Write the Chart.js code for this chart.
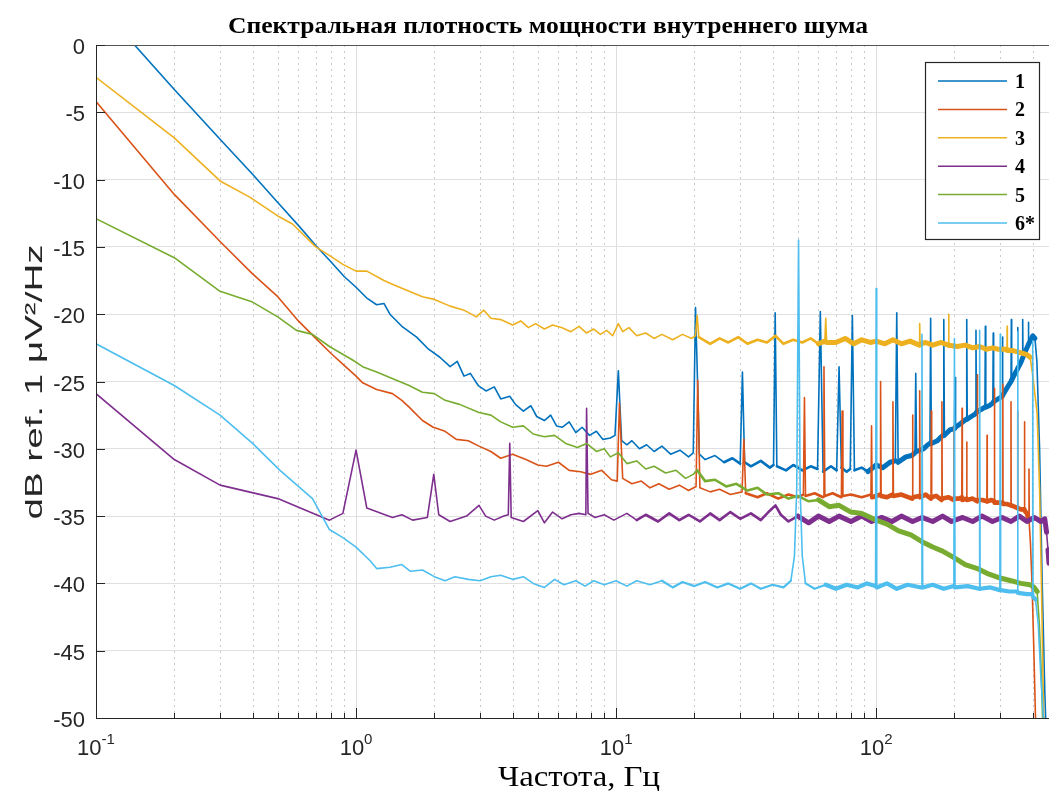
<!DOCTYPE html>
<html lang="ru">
<head>
    <meta charset="UTF-8">
    <title>Спектральная плотность мощности внутреннего шума</title>
    <style>
        html, body { margin: 0; padding: 0; background: #fff; overflow: hidden; }
        #wrap { width: 1049px; height: 791px; }
    </style>
</head>
<body>
<div id="wrap"><canvas id="psdChart" width="1049" height="791"></canvas></div>
<script src="https://cdn.jsdelivr.net/npm/chart.js"></script>
<script>
// texts
const titleText = 'Спектральная плотность мощности внутреннего шума';
const xTitle = 'Частота, Гц';
const yTitle = 'dB ref. 1 μV²/Hz';
const seriesNames = ['1', '2', '3', '4', '5', '6*'];
const seriesColors = ['#0072BD', '#D95319', '#EDB120', '#7E2F8E', '#77AC30', '#4DBEEE'];

// axes
const xMin = 0.1, xMax = 462;
const xDecades = [0.1, 1, 10, 100];
const xDecadeLabels = [['10', '-1'], ['10', '0'], ['10', '1'], ['10', '2']];
const yTickValues = [0, -5, -10, -15, -20, -25, -30, -35, -40, -45, -50];

// [frequency Hz, dB]
const s1 = [[0.1,3.2],[0.2,-3.3],[0.3,-7.0],[0.4,-9.6],[0.5,-11.7],[0.6,-13.4],[0.7,-14.9],[0.8,-16.1],[0.9,-17.2],[1.0,-18.0],[1.1,-18.8],[1.2,-19.3],[1.28,-19.2],[1.35,-20.0],[1.5,-20.9],[1.71,-21.7],[1.9,-22.6],[2.1,-23.2],[2.3,-23.9],[2.45,-23.5],[2.6,-24.6],[2.75,-24.4],[2.95,-25.3],[3.16,-25.7],[3.4,-25.4],[3.6,-26.3],[3.9,-26.1],[4.1,-26.7],[4.4,-27.2],[4.7,-26.8],[4.95,-27.6],[5.3,-27.9],[5.6,-27.5],[5.9,-28.3],[6.2,-28.4],[6.6,-28.0],[7.0,-28.8],[7.4,-28.4],[7.9,-29.0],[8.4,-28.7],[8.9,-29.3],[9.5,-29.2],[9.9,-29.0],[10.2,-24.2],[10.5,-29.4],[11.0,-29.7],[11.5,-29.4],[12.3,-30.0],[13.1,-29.7],[14.0,-30.2],[15.0,-29.8],[16.2,-30.4],[17.6,-30.1],[19.0,-30.6],[19.8,-30.3],[20.2,-19.5],[20.5,-24.0],[20.9,-30.4],[22,-30.8],[24,-30.5],[26,-31.0],[28,-30.7],[30,-31.1],[30.6,-24.3],[31.2,-31.0],[33,-31.3],[36,-30.9],[39,-31.4],[40.3,-31.2],[40.9,-19.9],[41.5,-31.3],[45,-31.6],[48,-31.2],[52,-31.6],[56,-31.3],[59.5,-31.5],[61,-19.8],[62.5,-31.7],[67,-31.3],[70.5,-31.6],[72,-23.9],[73.5,-31.4],[77,-31.7],[79.5,-31.5],[81,-20.1],[82.5,-31.6],[88,-31.4],[93,-31.7],[100,-31.2],[106,-31.4],[113,-31.0],[118.5,-30.9],[120,-19.9],[121.5,-31.0],[130,-30.6],[137,-30.5],[141,-30.3],[142,-24.4],[143,-30.2],[152,-30.0],[158,-29.7],[161,-29.6],[162,-20.3],[163,-29.6],[172,-29.4],[178,-29.1],[181,-29.0],[182,-20.4],[183,-29.0],[192,-28.6],[200,-28.5],[201,-24.7],[202,-28.4],[212,-28.1],[222,-27.8],[223,-20.4],[224,-27.8],[232,-27.6],[241,-27.4],[242,-21.2],[243,-27.3],[252,-27.1],[262,-26.9],[263,-20.9],[264,-26.9],[272,-26.8],[281,-26.6],[282,-21.4],[283,-26.5],[294,-26.3],[305,-26.1],[306,-21.7],[307,-26.0],[318,-25.5],[330,-25.0],[331,-20.4],[332,-24.9],[342,-24.4],[349,-24.1],[350,-21.0],[351,-24.0],[360,-23.6],[365,-23.3],[366,-20.4],[367,-23.2],[376,-22.7],[384,-22.3],[385,-20.6],[386,-22.2],[393,-21.9],[400,-21.6],[408,-21.8],[415,-23.5],[425,-30],[435,-40],[445,-48],[452,-52]];

const s2 = [[0.1,-4.2],[0.2,-11.1],[0.3,-14.6],[0.4,-17.0],[0.5,-18.7],[0.6,-20.5],[0.7,-21.8],[0.8,-22.9],[0.9,-23.8],[1.0,-24.6],[1.06,-25.1],[1.2,-25.6],[1.38,-25.9],[1.5,-26.4],[1.6,-26.9],[1.8,-27.9],[1.98,-28.4],[2.2,-28.7],[2.43,-29.3],[2.7,-29.4],[2.97,-29.8],[3.3,-30.2],[3.6,-30.7],[4.0,-30.4],[4.5,-30.8],[5.0,-31.2],[5.4,-31.3],[6.0,-31.0],[6.6,-31.6],[7.3,-31.7],[8.0,-31.9],[8.8,-31.6],[9.6,-32.3],[10.1,-32.4],[10.3,-26.6],[10.6,-32.2],[11.5,-32.6],[12.5,-32.4],[13.5,-32.9],[14.6,-32.6],[16,-33.0],[17.5,-32.7],[19,-33.1],[20.3,-32.8],[20.6,-24.9],[21,-32.9],[23,-33.2],[25,-33.0],[27.5,-33.4],[30.5,-33.2],[31,-29.3],[31.5,-33.3],[35,-33.6],[38,-33.3],[42,-33.7],[46,-33.4],[50,-33.6],[52.5,-33.4],[53,-26.2],[53.5,-33.5],[58,-33.3],[62.5,-33.6],[63,-23.9],[63.5,-33.5],[68,-33.3],[73.5,-33.6],[74,-27.2],[74.5,-33.5],[80,-33.4],[88,-33.6],[95.5,-33.4],[96,-28.3],[96.5,-33.6],[103.5,-33.4],[104,-25.0],[104.5,-33.5],[110,-33.6],[115.5,-33.4],[116,-26.5],[116.5,-33.5],[125,-33.4],[137.5,-33.7],[138,-27.5],[138.5,-33.6],[146.5,-33.5],[147,-25.7],[147.5,-33.6],[155,-33.4],[162.5,-33.7],[163,-27.2],[163.5,-33.6],[170,-33.5],[178.5,-33.8],[179,-26.5],[179.5,-33.7],[190,-33.6],[198.5,-33.8],[199,-28.3],[199.5,-33.7],[208,-33.7],[213.5,-33.6],[214,-27.0],[214.5,-33.8],[222.5,-33.7],[223,-29.5],[223.5,-33.8],[235,-33.7],[244.5,-33.9],[245,-24.5],[245.5,-33.8],[256,-33.8],[266.5,-33.9],[267,-29.0],[267.5,-33.9],[278,-33.8],[284.5,-33.9],[285,-25.5],[285.5,-34.0],[296,-34.0],[306.5,-34.0],[307,-25.2],[307.5,-34.1],[318,-34.1],[329.5,-34.2],[330,-26.5],[330.5,-34.2],[340,-34.3],[349.5,-34.4],[350,-27.2],[350.5,-34.4],[360,-34.5],[371.5,-34.5],[372,-28.0],[372.5,-34.6],[380,-34.8],[386,-35.3],[387,-31.5],[388,-35.6],[392,-37],[398,-40.3],[404,-45],[410,-50],[415,-53]];

const s3 = [[0.1,-2.4],[0.2,-6.9],[0.3,-10.1],[0.39,-11.3],[0.5,-12.7],[0.57,-13.3],[0.7,-15.0],[0.8,-15.7],[0.89,-16.3],[1.0,-16.8],[1.1,-16.8],[1.28,-17.5],[1.43,-17.9],[1.6,-18.3],[1.8,-18.7],[2.0,-18.9],[2.3,-19.4],[2.6,-19.7],[2.9,-20.2],[3.1,-19.7],[3.3,-20.3],[3.6,-20.4],[4.0,-20.8],[4.3,-20.5],[4.6,-21.0],[4.9,-20.7],[5.3,-21.1],[5.7,-20.8],[6.2,-21.0],[6.7,-21.3],[7.2,-20.9],[7.7,-21.4],[8.2,-21.1],[8.7,-21.5],[9.2,-21.2],[9.7,-21.6],[10.2,-20.7],[10.6,-21.3],[11.2,-21.0],[12,-21.6],[13,-21.4],[14,-21.8],[15,-21.5],[16.5,-21.9],[18,-21.5],[19.5,-21.8],[20.2,-21.6],[20.5,-20.1],[20.8,-21.7],[23,-22.2],[25,-21.8],[27,-22.1],[29.5,-21.7],[32,-22.2],[35,-21.9],[38,-22.1],[41,-21.6],[44,-22.2],[48,-21.9],[52,-22.1],[56,-21.8],[60,-22.2],[63.5,-22.0],[64,-20.3],[64.5,-22.1],[70,-22.1],[76,-21.8],[82,-22.2],[88,-21.9],[95,-22.1],[100,-22.0],[108,-22.2],[116,-21.9],[125,-22.2],[135,-22.0],[146.5,-22.3],[147,-20.7],[147.5,-22.2],[155,-22.1],[165,-22.3],[178,-22.1],[189.5,-22.3],[190,-20.0],[190.5,-22.3],[205,-22.4],[220,-22.3],[235,-22.5],[250,-22.4],[265,-22.6],[280,-22.5],[295,-22.6],[318.5,-22.6],[319,-20.9],[319.5,-22.7],[335,-22.7],[350,-22.8],[365,-22.9],[380,-23.0],[391,-23.2],[401,-24.7],[416,-27.4],[425,-33],[432,-40],[438,-47],[442,-51]];

const s4 = [[0.1,-25.9],[0.2,-30.8],[0.3,-32.7],[0.5,-33.7],[0.79,-35.3],[0.89,-34.8],[1.0,-30.1],[1.1,-34.4],[1.38,-35.1],[1.5,-34.9],[1.65,-35.3],[1.88,-35.1],[1.99,-31.9],[2.08,-34.9],[2.3,-35.4],[2.66,-35.0],[2.97,-34.2],[3.15,-35.0],[3.4,-35.3],[3.7,-35.0],[3.85,-34.9],[3.9,-29.6],[3.95,-35.1],[4.4,-35.4],[5.0,-34.6],[5.3,-35.5],[5.7,-34.7],[6.2,-35.2],[6.7,-34.9],[7.2,-34.8],[7.65,-34.9],[7.7,-27.0],[7.8,-34.8],[8.3,-35.1],[9.0,-34.9],[9.8,-35.3],[11,-34.8],[12,-35.3],[13,-34.9],[14.5,-35.4],[16,-34.8],[17.5,-35.3],[19,-34.9],[21,-35.4],[23,-34.8],[25,-35.3],[27.5,-34.7],[30,-35.2],[33,-34.8],[36,-35.3],[39,-34.6],[41,-34.2],[43,-34.9],[46,-35.4],[50,-35.0],[55,-35.5],[60,-35.0],[66,-35.4],[72,-35.0],[80,-35.4],[88,-35.0],[96,-35.4],[105,-35.1],[115,-35.4],[125,-35.0],[138,-35.4],[150,-35.1],[165,-35.4],[180,-35.0],[195,-35.4],[215,-35.1],[235,-35.4],[255,-35.0],[280,-35.4],[305,-35.1],[330,-35.4],[355,-35.0],[380,-35.4],[405,-35.1],[430,-35.4],[445,-35.2],[452,-36.2],[458,-37.5],[462,-38.5]];

const s5 = [[0.1,-12.9],[0.2,-15.8],[0.3,-18.3],[0.4,-19.1],[0.5,-20.2],[0.59,-21.2],[0.68,-21.5],[0.79,-22.4],[0.97,-23.4],[1.06,-23.9],[1.2,-24.3],[1.43,-24.9],[1.6,-25.3],[1.8,-25.8],[2.0,-25.9],[2.2,-26.4],[2.5,-26.7],[2.97,-27.3],[3.3,-27.5],[3.6,-28.0],[4.0,-28.4],[4.4,-28.3],[4.8,-28.9],[5.3,-29.1],[5.8,-29.0],[6.4,-29.6],[7.1,-29.9],[7.7,-29.6],[8.4,-30.2],[9.0,-30.0],[9.5,-30.6],[10.2,-30.3],[11,-31.1],[12,-30.9],[13,-31.5],[14,-31.3],[15.5,-31.8],[17,-31.6],[18.5,-32.2],[19.8,-31.9],[20.5,-31.6],[22,-32.4],[24,-32.3],[26.5,-32.8],[29,-32.6],[32,-33.1],[35,-32.9],[38,-33.4],[42,-33.3],[46,-33.7],[50,-33.5],[55,-33.9],[60,-33.8],[66,-34.3],[72,-34.2],[80,-34.7],[88,-34.8],[100,-35.3],[110,-35.6],[122,-36.1],[136,-36.4],[150,-36.9],[165,-37.3],[180,-37.6],[200,-38.1],[220,-38.6],[245,-38.9],[270,-39.3],[300,-39.6],[330,-39.8],[360,-40.0],[391,-40.1],[405,-40.3],[416,-40.6],[424,-43],[432,-47],[438,-51]];

const s6 = [[0.1,-22.2],[0.2,-25.3],[0.3,-27.5],[0.4,-29.6],[0.51,-31.6],[0.68,-33.7],[0.79,-36.0],[0.89,-36.6],[1.0,-37.3],[1.13,-38.3],[1.2,-38.9],[1.35,-38.8],[1.5,-38.6],[1.62,-39.1],[1.8,-39.0],[2.0,-39.5],[2.2,-39.8],[2.4,-39.5],[2.7,-39.7],[3.0,-39.8],[3.3,-39.5],[3.6,-39.4],[4.0,-39.7],[4.4,-39.5],[4.8,-40.0],[5.3,-40.3],[5.8,-39.7],[6.3,-40.1],[7.0,-39.8],[7.6,-40.2],[8.2,-39.8],[9,-40.1],[10,-39.8],[11,-40.2],[12,-39.8],[13.5,-40.1],[15,-39.8],[16.5,-40.3],[18,-39.9],[20,-40.2],[22,-39.9],[24.5,-40.3],[27,-40.0],[30,-40.4],[33,-40.0],[36,-40.4],[40,-40.1],[44,-40.3],[47,-39.8],[48.5,-38],[49.5,-33],[50.3,-14.5],[51,-33],[52,-38],[53.5,-40.0],[58,-40.4],[64,-40.1],[70,-40.4],[77,-40.1],[85,-40.3],[92,-40.0],[99.5,-40.2],[100,-18.1],[100.5,-40.3],[110,-40.0],[120,-40.4],[132,-40.1],[149,-40.3],[150,-21.5],[151,-40.3],[165,-40.1],[182,-40.4],[199,-40.2],[200,-21.8],[201,-40.3],[225,-40.2],[249,-40.4],[250,-21.2],[251,-40.4],[275,-40.3],[299,-40.5],[300,-21.5],[301,-40.5],[325,-40.6],[349,-40.6],[350,-21.3],[351,-40.7],[380,-40.8],[399,-40.8],[400,-22.0],[401,-41.0],[410,-41.2],[420,-43],[430,-47],[440,-50],[450,-53]];

const allSeries = [s1, s2, s3, s4, s5, s6];

// line thickness where the spectra become a dense noise band
const bandWidths = [
    { f1: 25, w1: 2.6, f2: 90, w2: 5 },
    { f1: 30, w1: 2.6, f2: 90, w2: 4.6 },
    { f1: 20, w1: 2.6, f2: 60, w2: 5 },
    { f1: 12, w1: 2.6, f2: 50, w2: 5 },
    { f1: 20, w1: 2.6, f2: 60, w2: 5 },
    { f1: 15, w1: 2.2, f2: 60, w2: 4.2 }
];

function segWidth(i, ctx) {
    const a = ctx.p0.parsed, b = ctx.p1.parsed;
    if (Math.abs(b.y - a.y) > 1.0) return 1.6;
    const bw = bandWidths[i];
    if (a.x >= bw.f2) return bw.w2;
    if (a.x >= bw.f1) return bw.w1;
    return 1.6;
}

const xTickList = [];
for (const d of xDecades) {
    for (let k = 1; k <= 9; k++) {
        const v = +(d * k).toPrecision(3);
        if (v <= xMax) xTickList.push(v);
    }
}

function drawText(ctx, str, x, y, font, align, targetWidth) {
    ctx.save();
    ctx.font = font;
    const w0 = ctx.measureText(str).width;
    const sx = targetWidth ? targetWidth / w0 : 1;
    const w = w0 * sx;
    const left = align === 'center' ? x - w / 2 : align === 'right' ? x - w : x;
    ctx.translate(left, y);
    ctx.scale(sx, 1);
    ctx.textAlign = 'left';
    ctx.textBaseline = 'alphabetic';
    ctx.fillText(str, 0, 0);
    ctx.restore();
}

const matlabAxes = {
    id: 'matlabAxes',
    beforeDatasetsDraw(chart) {
        const { ctx, chartArea: a, scales: { x } } = chart;
        ctx.save();
        for (const v of xTickList) {
            const px = Math.round(x.getPixelForValue(v)) + 0.5;
            const major = xDecades.includes(v);
            ctx.strokeStyle = major ? '#dedede' : '#c9c9c9';
            ctx.lineWidth = 1;
            ctx.setLineDash(major ? [] : [2, 4]);
            ctx.beginPath();
            ctx.moveTo(px, a.top);
            ctx.lineTo(px, a.bottom);
            ctx.stroke();
        }
        ctx.restore();
    },
    afterDraw(chart) {
        const { ctx, chartArea: a, scales: { x, y } } = chart;
        ctx.save();
        ctx.fillStyle = '#262626';
        ctx.strokeStyle = '#262626';
        ctx.lineWidth = 1;

        // axes box (left, bottom, top)
        ctx.beginPath();
        ctx.moveTo(a.left + 0.5, a.top);
        ctx.lineTo(a.left + 0.5, a.bottom + 0.5);
        ctx.lineTo(a.right, a.bottom + 0.5);
        ctx.stroke();
        ctx.strokeStyle = '#555';
        ctx.beginPath();
        ctx.moveTo(a.left, a.top + 0.5);
        ctx.lineTo(a.right, a.top + 0.5);
        ctx.stroke();
        ctx.strokeStyle = '#262626';

        // y ticks + labels
        for (const v of yTickValues) {
            const py = Math.round(y.getPixelForValue(v)) + 0.5;
            ctx.beginPath();
            ctx.moveTo(a.left, py);
            ctx.lineTo(a.left + 9, py);
            ctx.stroke();
            drawText(ctx, String(v), a.left - 11, py + 8, '22px "Liberation Sans", Arial, sans-serif', 'right');
        }

        // x ticks + labels
        for (const v of xTickList) {
            const px = Math.round(x.getPixelForValue(v)) + 0.5;
            const major = xDecades.includes(v);
            ctx.beginPath();
            ctx.moveTo(px, a.bottom);
            ctx.lineTo(px, a.bottom - (major ? 10 : 5));
            ctx.stroke();
        }
        xDecades.forEach((v, i) => {
            const px = x.getPixelForValue(v);
            const [base, exp] = xDecadeLabels[i];
            ctx.font = '22px "Liberation Sans", Arial, sans-serif';
            const wb = ctx.measureText(base).width;
            ctx.font = '15px "Liberation Sans", Arial, sans-serif';
            const we = ctx.measureText(exp).width;
            const left = px - (wb + we) / 2;
            drawText(ctx, base, left, a.bottom + 37, '22px "Liberation Sans", Arial, sans-serif', 'left');
            drawText(ctx, exp, left + wb, a.bottom + 26, '15px "Liberation Sans", Arial, sans-serif', 'left');
        });

        // titles
        ctx.fillStyle = '#000';
        drawText(ctx, titleText, 548, 33, 'bold 24px "Liberation Serif", "Times New Roman", serif', 'center', 640);
        drawText(ctx, xTitle, 579, 786, '30px "Liberation Serif", "Times New Roman", serif', 'center', 162);
        ctx.save();
        ctx.translate(42, 382);
        ctx.rotate(-Math.PI / 2);
        ctx.fillStyle = '#262626';
        drawText(ctx, yTitle, 0, 0, '24px "Liberation Sans", Arial, sans-serif', 'center', 275);
        ctx.restore();

        // legend box
        const lx = 925, ly = 62, lw = 114, lh = 177;
        ctx.fillStyle = '#fff';
        ctx.fillRect(lx, ly, lw, lh);
        ctx.strokeStyle = '#262626';
        ctx.lineWidth = 1.2;
        ctx.strokeRect(lx + 0.5, ly + 0.5, lw, lh);
        seriesNames.forEach((name, i) => {
            const cy = 81 + i * 28.4;
            ctx.strokeStyle = seriesColors[i];
            ctx.lineWidth = 1.5;
            ctx.beginPath();
            ctx.moveTo(938, cy);
            ctx.lineTo(1007, cy);
            ctx.stroke();
            ctx.fillStyle = '#000';
            drawText(ctx, name, 1015, cy + 7, 'bold 20px "Liberation Serif", "Times New Roman", serif', 'left');
        });
        ctx.restore();
    }
};

new Chart(document.getElementById('psdChart'), {
    type: 'line',
    data: {
        datasets: allSeries.map((pts, i) => ({
            label: seriesNames[i],
            data: pts.map(p => ({ x: p[0], y: p[1] })),
            borderColor: seriesColors[i],
            borderWidth: 1.6,
            borderJoinStyle: 'round',
            borderCapStyle: 'round',
            pointRadius: 0,
            tension: 0,
            order: 6 - i,
            segment: { borderWidth: ctx => segWidth(i, ctx) }
        }))
    },
    options: {
        responsive: false,
        animation: false,
        devicePixelRatio: 1,
        layout: { padding: { top: 45, right: 0, left: 0, bottom: 0 } },
        plugins: { legend: { display: false }, title: { display: false }, tooltip: { enabled: false } },
        scales: {
            x: {
                type: 'logarithmic',
                min: xMin,
                max: xMax,
                afterBuildTicks: scale => { scale.ticks = xTickList.map(v => ({ value: v })); },
                afterFit: scale => { scale.height = 73; },
                ticks: { display: false },
                grid: { display: false },
                border: { display: false }
            },
            y: {
                type: 'linear',
                min: -50,
                max: 0,
                afterBuildTicks: scale => { scale.ticks = yTickValues.map(v => ({ value: v })); },
                afterFit: scale => { scale.width = 96; },
                ticks: { display: false },
                grid: { color: '#e0e0e0', lineWidth: 1, drawTicks: false },
                border: { display: false }
            }
        }
    },
    plugins: [matlabAxes]
});
</script>
</body>
</html>
